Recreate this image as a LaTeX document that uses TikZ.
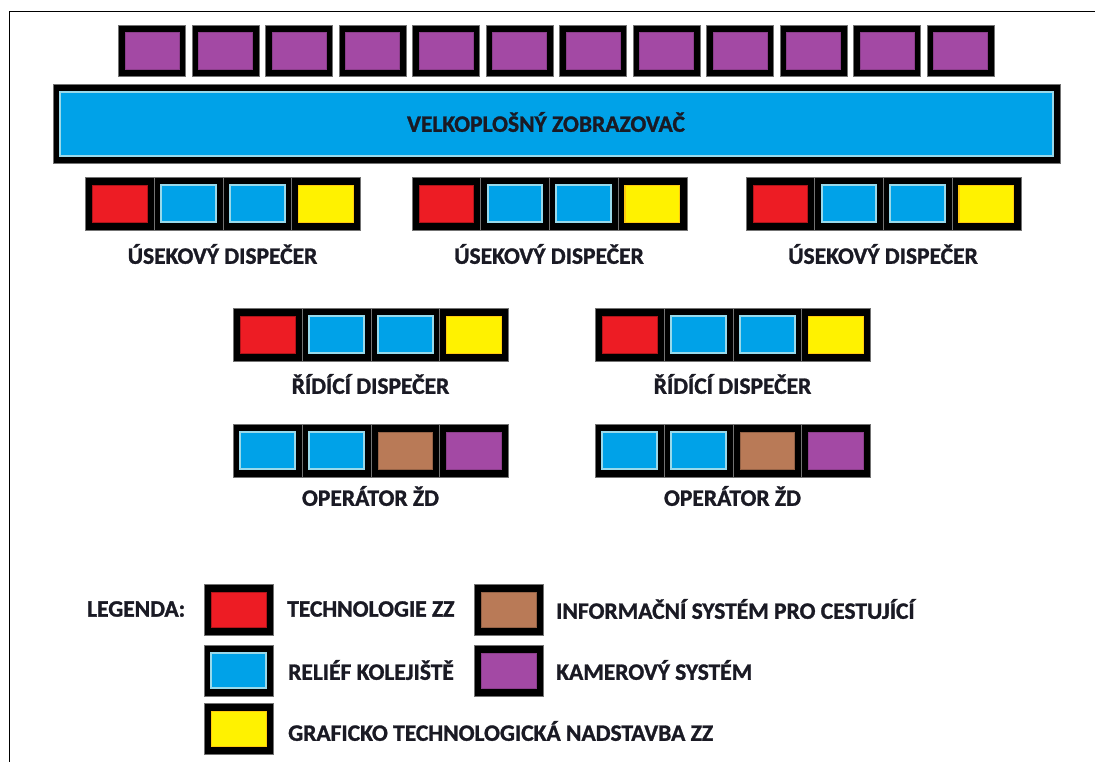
\documentclass[tikz,border=0pt]{standalone}
\usepackage{fontspec}
\setmainfont{Carlito}[BoldFeatures={FakeBold=1.2}]
\definecolor{pred}{HTML}{ED1C24}
\definecolor{pdred}{HTML}{B0141A}
\definecolor{pblue}{HTML}{00A2E8}
\definecolor{plblue}{HTML}{99D9EA}
\definecolor{pyel}{HTML}{FFF200}
\definecolor{pora}{HTML}{FFC90E}
\definecolor{pbrown}{HTML}{B97A57}
\definecolor{ppurple}{HTML}{A349A4}
\definecolor{ptext}{HTML}{1A1A24}
\tikzset{
  outerbox/.style={rectangle, fill=black, draw=black!55, line width=0.6pt, inner sep=0pt, anchor=north west},
  innerbox/.style={rectangle, inner sep=0pt},
  kred/.style={innerbox, fill=pred, draw=pdred, line width=0.6pt},
  kblue/.style={innerbox, fill=pblue, draw=plblue, line width=2pt},
  kyel/.style={innerbox, fill=pyel, draw=pora, line width=1.2pt},
  kbrown/.style={innerbox, fill=pbrown, draw=pbrown!80!black, line width=0.5pt},
  kpurple/.style={innerbox, fill=ppurple, draw=ppurple!85!black, line width=0.5pt},
  lbl/.style={font=\fontsize{23.5}{27}\selectfont\bfseries, text=ptext, inner sep=0pt},
  frame/.style={line width=1pt, black}
}
% #1 name, #2 x, #3 y, #4 w, #5 h, #6 kind, #7 hinset, #8 vinset
\newcommand\scrbox[8]{%
  \node[outerbox, minimum width=#4pt, minimum height=#5pt] (#1) at (#2,#3) {};
  \node[#6, minimum width=#4pt-2*#7pt, minimum height=#5pt-2*#8pt] (#1i) at (#1.center) {};
}
% group of four: #1 name, #2 x, #3 y, #4..#7 kinds
\newcommand\grp[7]{%
  \scrbox{#1a}{#2}{#3}{68.75}{53}{#4}{7}{8}
  \scrbox{#1b}{#2+68.75}{#3}{68.75}{53}{#5}{7}{8}
  \scrbox{#1c}{#2+137.5}{#3}{68.75}{53}{#6}{7}{8}
  \scrbox{#1d}{#2+206.25}{#3}{68.75}{53}{#7}{7}{8}
}
\begin{document}
\begin{tikzpicture}[x=1pt,y=-1pt]
\useasboundingbox (0,0) rectangle (1095,762);
\fill[white] (0,0) rectangle (1095,762);
\coordinate (fbl) at (9,762);
\coordinate (ftl) at (9,12);
\coordinate (ftr) at (1095,12);
\draw[frame] (fbl) -- (ftl) -- (ftr);

% top camera monitors
\foreach \i in {0,...,11}{
  \scrbox{cam\i}{118+\i*73.5}{25}{67}{51}{kpurple}{6.5}{7}
}
% large screen
\scrbox{wall}{53}{84}{1007}{79}{kblue}{7}{7.5}
\node[lbl] (walltxt) at (546,122) {VELKOPLOŠNÝ ZOBRAZOVAČ};

% section dispatchers
\grp{ua}{85}{177}{kred}{kblue}{kblue}{kyel}
\grp{ub}{411.5}{177}{kred}{kblue}{kblue}{kyel}
\grp{uc}{745.5}{177}{kred}{kblue}{kblue}{kyel}
\node[lbl] (uat) at (222.5,254) {ÚSEKOVÝ DISPEČER};
\node[lbl] (ubt) at (549,254) {ÚSEKOVÝ DISPEČER};
\node[lbl] (uct) at (883,254) {ÚSEKOVÝ DISPEČER};

% controlling dispatchers
\grp{ra}{233}{308}{kred}{kblue}{kblue}{kyel}
\grp{rb}{595}{308}{kred}{kblue}{kblue}{kyel}
\node[lbl] (rat) at (370.5,384) {ŘÍDÍCÍ DISPEČER};
\node[lbl] (rbt) at (732.5,384) {ŘÍDÍCÍ DISPEČER};

% operators
\grp{oa}{233}{424}{kblue}{kblue}{kbrown}{kpurple}
\grp{ob}{595}{424}{kblue}{kblue}{kbrown}{kpurple}
\node[lbl] (oat) at (370.5,496) {OPERÁTOR ŽD};
\node[lbl] (obt) at (732.5,496) {OPERÁTOR ŽD};

% legend
\node[lbl, anchor=west] (leg) at (87,609) {LEGENDA:};
\scrbox{lr}{204}{584}{69}{51}{kred}{7}{8}
\scrbox{lb}{204}{645}{69}{51}{kblue}{7}{8}
\scrbox{ly}{204}{703}{69}{51}{kyel}{7}{8}
\scrbox{lbr}{474}{584}{69}{51}{kbrown}{7}{8}
\scrbox{lp}{474}{645}{69}{51}{kpurple}{7}{8}
\node[lbl, anchor=west] (lrt) at (287,609) {TECHNOLOGIE ZZ};
\node[lbl, anchor=west] (lbt) at (288,670) {RELIÉF KOLEJIŠTĚ};
\node[lbl, anchor=west] (lyt) at (288,731) {GRAFICKO TECHNOLOGICKÁ NADSTAVBA ZZ};
\node[lbl, anchor=west] (lbrt) at (556,609) {INFORMAČNÍ SYSTÉM PRO CESTUJÍCÍ};
\node[lbl, anchor=west] (lpt) at (556,670) {KAMEROVÝ SYSTÉM};
\end{tikzpicture}
\end{document}
